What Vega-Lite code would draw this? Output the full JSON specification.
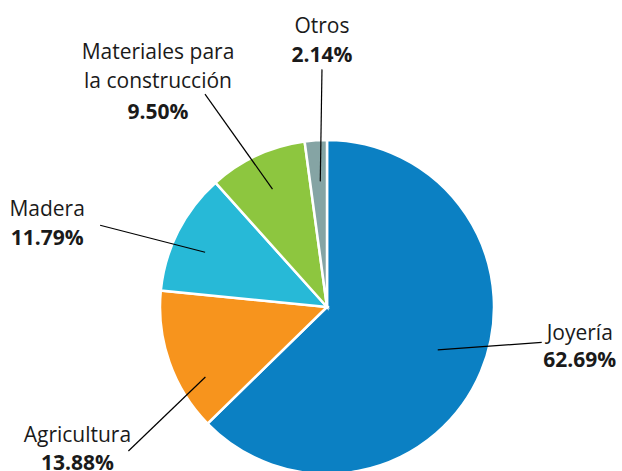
{
  "$schema": "https://vega.github.io/schema/vega-lite/v6.json",
  "width": 590,
  "height": 328,
  "autosize": {"type": "none"},
  "padding": {"left": 32, "top": 143, "right": 0, "bottom": 0},
  "background": "white",
  "config": {"view": {"stroke": null}, "text": {"font": "Open Sans", "fontSize": 21, "color": "#1a1a1a"}},
  "data": {"values": [
    {"categoria": "Joyería", "participacion": 0.6269, "orden": 1},
    {"categoria": "Agricultura", "participacion": 0.1388, "orden": 2},
    {"categoria": "Madera", "participacion": 0.1179, "orden": 3},
    {"categoria": "Materiales para la construcción", "participacion": 0.0950, "orden": 4},
    {"categoria": "Otros", "participacion": 0.0214, "orden": 5}
  ]},
  "transform": [
    {"window": [{"op": "sum", "field": "participacion", "as": "acumulado"}], "sort": [{"field": "orden", "order": "ascending"}], "frame": [null, 0]},
    {"calculate": "2 * PI * (datum.acumulado - datum.participacion / 2)", "as": "angulo"},
    {"calculate": "0.778 * sin(datum.angulo)", "as": "px"},
    {"calculate": "0.778 * cos(datum.angulo)", "as": "py"},
    {"calculate": "format(datum.participacion, '.2%')", "as": "pct"},
    {"calculate": "replace(datum.categoria, 'para ', 'para\\n')", "as": "etiqueta"}
  ],
  "layer": [
    {
      "mark": {"type": "arc", "outerRadius": 167, "stroke": "white", "strokeWidth": 2.5},
      "encoding": {
        "theta": {"field": "participacion", "type": "quantitative", "stack": true},
        "order": {"field": "orden", "type": "quantitative"},
        "color": {
          "field": "categoria", "type": "nominal", "legend": null,
          "scale": {
            "domain": ["Joyería", "Agricultura", "Madera", "Materiales para la construcción", "Otros"],
            "range": ["#0b80c3", "#f7941d", "#27b9d7", "#8dc63f", "#85a4a4"]
          }
        }
      }
    },
    {
      "encoding": {
        "x": {"field": "px", "type": "quantitative", "axis": null, "scale": {"domain": [-1.7665, 1.7665], "nice": false, "zero": false}},
        "y": {"field": "py", "type": "quantitative", "axis": null, "scale": {"domain": [-0.98204, 0.98204], "nice": false, "zero": false}}
      },
      "layer": [
        {
          "transform": [{"filter": "datum.orden == 1"}],
          "layer": [
            {"mark": {"type": "rule", "color": "#000", "strokeWidth": 1.2, "xOffset": -9, "yOffset": -7.5, "x2Offset": 95, "y2Offset": -15},
             "encoding": {"x2": {"field": "px"}, "y2": {"field": "py"}}},
            {"mark": {"type": "text", "align": "center", "baseline": "alphabetic", "dx": 133, "dy": -17.5},
             "encoding": {"text": {"field": "etiqueta"}}},
            {"mark": {"type": "text", "align": "center", "baseline": "alphabetic", "fontWeight": "bold", "dx": 133, "dy": 9.5},
             "encoding": {"text": {"field": "pct"}}}
          ]
        },
        {
          "transform": [{"filter": "datum.orden == 2"}],
          "layer": [
            {"mark": {"type": "rule", "color": "#000", "strokeWidth": 1.2, "xOffset": 1, "yOffset": 27, "x2Offset": -76, "y2Offset": 101},
             "encoding": {"x2": {"field": "px"}, "y2": {"field": "py"}}},
            {"mark": {"type": "text", "align": "center", "baseline": "alphabetic", "dx": -127, "dy": 92},
             "encoding": {"text": {"field": "etiqueta"}}},
            {"mark": {"type": "text", "align": "center", "baseline": "alphabetic", "fontWeight": "bold", "dx": -127, "dy": 120},
             "encoding": {"text": {"field": "pct"}}}
          ]
        },
        {
          "transform": [{"filter": "datum.orden == 3"}],
          "layer": [
            {"mark": {"type": "rule", "color": "#000", "strokeWidth": 1.2, "xOffset": -6, "yOffset": 4, "x2Offset": -111, "y2Offset": -23},
             "encoding": {"x2": {"field": "px"}, "y2": {"field": "py"}}},
            {"mark": {"type": "text", "align": "center", "baseline": "alphabetic", "dx": -164, "dy": -32},
             "encoding": {"text": {"field": "etiqueta"}}},
            {"mark": {"type": "text", "align": "center", "baseline": "alphabetic", "fontWeight": "bold", "dx": -164, "dy": -3},
             "encoding": {"text": {"field": "pct"}}}
          ]
        },
        {
          "transform": [{"filter": "datum.orden == 4"}],
          "layer": [
            {"mark": {"type": "rule", "color": "#000", "strokeWidth": 1.2, "x2Offset": -67.5, "y2Offset": -95},
             "encoding": {"x2": {"field": "px"}, "y2": {"field": "py"}}},
            {"mark": {"type": "text", "align": "center", "baseline": "alphabetic", "lineBreak": "\n", "lineHeight": 29, "dx": -114.5, "dy": -130},
             "encoding": {"text": {"field": "etiqueta"}}},
            {"mark": {"type": "text", "align": "center", "baseline": "alphabetic", "fontWeight": "bold", "dx": -114.5, "dy": -70},
             "encoding": {"text": {"field": "pct"}}}
          ]
        },
        {
          "transform": [{"filter": "datum.orden == 5"}],
          "layer": [
            {"mark": {"type": "rule", "color": "#000", "strokeWidth": 1.2, "xOffset": 2, "yOffset": 4, "x2Offset": 3.7, "y2Offset": -108},
             "encoding": {"x2": {"field": "px"}, "y2": {"field": "py"}}},
            {"mark": {"type": "text", "align": "center", "baseline": "alphabetic", "dx": 3.7, "dy": -144},
             "encoding": {"text": {"field": "etiqueta"}}},
            {"mark": {"type": "text", "align": "center", "baseline": "alphabetic", "fontWeight": "bold", "dx": 3.7, "dy": -115},
             "encoding": {"text": {"field": "pct"}}}
          ]
        }
      ]
    }
  ]
}
